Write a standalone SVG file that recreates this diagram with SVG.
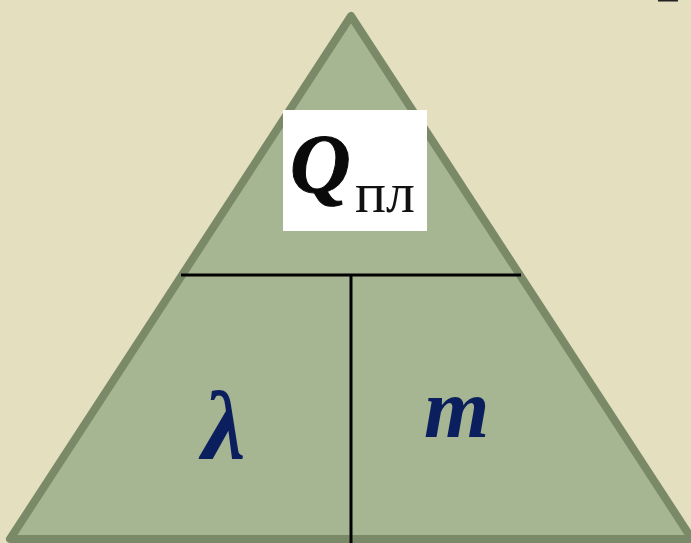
<svg xmlns="http://www.w3.org/2000/svg" width="691" height="543" viewBox="0 0 691 543">
<style>
.sym{font-family:"Liberation Serif","DejaVu Serif",serif;font-weight:bold;font-style:italic;fill:#0b1f5f}
.div{stroke:#000;stroke-width:3}
</style>
<rect width="691" height="543" fill="#e4dfbf"/>
<rect x="658" y="0" width="20" height="1.5" fill="#222"/>
<g id="triangle">
<polygon points="351,16 10,539 692,539" fill="#a6b592" stroke="#7a8a68" stroke-width="8" stroke-linejoin="round"/>
</g>
<g id="connectors">
<line class="div" x1="181" y1="275" x2="521" y2="275"/>
<line class="div" x1="351" y1="275" x2="351" y2="543"/>
</g>
<g id="top">
<rect x="283" y="110" width="144" height="121" fill="#fff"/>
<text x="290" y="193" font-family="Liberation Serif,serif" font-weight="bold" font-style="italic" font-size="84" fill="#0a0a0a" stroke="#0a0a0a" stroke-width="1">Q</text>
<text x="355" y="212" font-family="Liberation Serif,serif" font-size="58" fill="#111">пл</text>
</g>
<g id="lambda">
<text class="sym" x="202" y="458" font-size="98">λ</text>
</g>
<g id="m">
<text class="sym" x="424" y="437" font-size="84">m</text>
</g>
</svg>
